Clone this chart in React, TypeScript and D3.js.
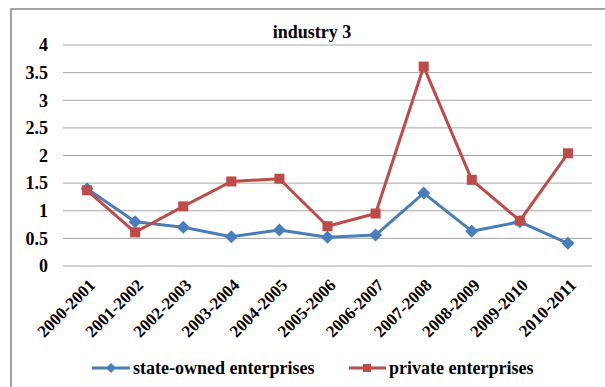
import React from "react";
import * as d3 from "d3";

const categories = [
  "2000-2001", "2001-2002", "2002-2003", "2003-2004", "2004-2005", "2005-2006",
  "2006-2007", "2007-2008", "2008-2009", "2009-2010", "2010-2011",
];
const stateOwned = [1.4, 0.8, 0.7, 0.53, 0.65, 0.52, 0.56, 1.32, 0.63, 0.8, 0.41];
const privateEnt = [1.37, 0.61, 1.08, 1.53, 1.58, 0.72, 0.95, 3.61, 1.56, 0.82, 2.04];
const yTicks = [0, 0.5, 1, 1.5, 2, 2.5, 3, 3.5, 4];
const seriesNames = ["state-owned enterprises", "private enterprises"];
const title = "industry 3";

const W = 605;
const H = 387;
const FONT = "Liberation Serif, Times New Roman, DejaVu Serif, serif";
const BLUE = "#4A7EBB";
const RED = "#BE4B48";

export default function App() {
  const x = d3.scaleBand<string>().domain(categories).range([63, 592]);
  const y = d3.scaleLinear().domain([0, 4]).range([266, 45]);
  const cx = (c: string) => (x(c) as number) + x.bandwidth() / 2;
  const line = d3
    .line<number>()
    .x((_, i) => cx(categories[i]))
    .y((d) => y(d));

  const diamond = (px: number, py: number, r: number) =>
    `M${px},${py - r}L${px + r},${py}L${px},${py + r}L${px - r},${py}Z`;

  const textStyle = { fontFamily: FONT, fontWeight: 700 } as React.CSSProperties;

  return (
    <>
      <style>{"body{margin:0}"}</style>
      <svg width={W} height={H} style={{ display: "block", background: "#fff" }}>
        <rect x={11} y={9} width={700} height={500} fill="#fff" stroke="#868686" strokeWidth={1.5} />
        <text x={312} y={32} dy="0.35em" textAnchor="middle" style={{ ...textStyle, fontSize: 18 }}>
          {title}
        </text>
        {yTicks.map((t) => (
          <g key={t}>
            <line x1={63} x2={592} y1={y(t)} y2={y(t)} stroke="#A6A6A6" strokeWidth={1} />
            <text
              x={48}
              y={y(t)}
              dy="0.35em"
              textAnchor="end"
              style={{ ...textStyle, fontSize: 18 }}
            >
              {t}
            </text>
          </g>
        ))}
        {categories.map((c) => (
          <text
            key={c}
            transform={`translate(${cx(c) + 5},${282}) rotate(-45)`}
            textAnchor="end"
            dy="0.35em"
            style={{ ...textStyle, fontSize: 17 }}
          >
            {c}
          </text>
        ))}
        <path d={line(stateOwned) || ""} fill="none" stroke={BLUE} strokeWidth={3} strokeLinejoin="round" />
        {stateOwned.map((v, i) => (
          <path key={i} d={diamond(cx(categories[i]), y(v), 6.5)} fill={BLUE} />
        ))}
        <path d={line(privateEnt) || ""} fill="none" stroke={RED} strokeWidth={3} strokeLinejoin="round" />
        {privateEnt.map((v, i) => (
          <rect key={i} x={cx(categories[i]) - 5} y={y(v) - 5} width={10} height={10} fill={RED} />
        ))}
        <g>
          <line x1={92} x2={130} y1={368} y2={368} stroke={BLUE} strokeWidth={3} />
          <path d={diamond(111, 368, 5)} fill={BLUE} />
          <text x={133} y={368} dy="0.33em" style={{ ...textStyle, fontSize: 18 }}>
            {seriesNames[0]}
          </text>
          <line x1={349} x2={386} y1={368} y2={368} stroke={RED} strokeWidth={3} />
          <rect x={363} y={364} width={8} height={8} fill={RED} />
          <text x={389} y={368} dy="0.33em" style={{ ...textStyle, fontSize: 18 }}>
            {seriesNames[1]}
          </text>
        </g>
      </svg>
    </>
  );
}
